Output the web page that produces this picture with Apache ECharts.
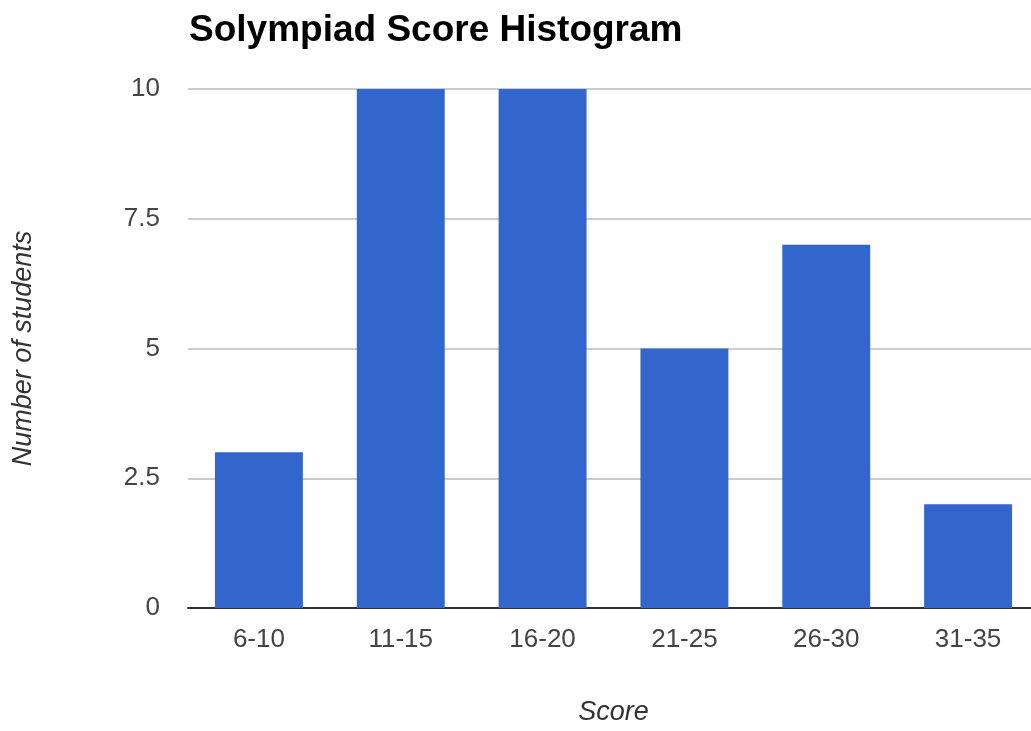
<!DOCTYPE html>
<html>
<head>
<meta charset="utf-8">
<title>Solympiad Score Histogram</title>
<script src="https://cdn.jsdelivr.net/npm/echarts@6/dist/echarts.min.js"></script>
<style>
  html, body { margin: 0; padding: 0; overflow: hidden; background: #fff; }
  #chart { width: 1040px; height: 731px; }
</style>
</head>
<body>
<div id="chart"></div>
<script>
// score bins and how many students landed in each
const categories = ['6-10', '11-15', '16-20', '21-25', '26-30', '31-35'];
const studentCounts = [3, 10, 10, 5, 7, 2];

const font = 'Liberation Sans, Arial, sans-serif';

let myChart = echarts.init(document.getElementById('chart'));

let option = {
  backgroundColor: '#ffffff',
  animation: false,
  title: {
    text: 'Solympiad Score Histogram',
    left: 184,
    top: 7,
    textStyle: {
      fontFamily: font,
      fontSize: 37,
      fontWeight: 'bold',
      color: '#000000'
    }
  },
  grid: {
    left: 188,
    right: 1,
    top: 89,
    bottom: 118
  },
  xAxis: {
    type: 'category',
    data: categories,
    name: 'Score',
    nameLocation: 'middle',
    nameGap: 91,
    nameTextStyle: {
      fontFamily: font,
      fontSize: 27,
      fontStyle: 'italic',
      color: '#333333'
    },
    axisLine: {
      lineStyle: { color: '#333333', width: 2 }
    },
    axisTick: { show: false },
    axisLabel: {
      margin: 19,
      fontFamily: font,
      fontSize: 26,
      color: '#444444'
    }
  },
  yAxis: {
    type: 'value',
    min: 0,
    max: 10,
    interval: 2.5,
    name: 'Number of students',
    nameLocation: 'middle',
    nameGap: 151,
    nameTextStyle: {
      fontFamily: font,
      fontSize: 27,
      fontStyle: 'italic',
      color: '#333333'
    },
    axisLine: { show: false },
    axisTick: { show: false },
    axisLabel: {
      margin: 28,
      fontFamily: font,
      fontSize: 26,
      color: '#444444'
    },
    splitLine: {
      lineStyle: { color: '#cccccc', width: 2 }
    }
  },
  series: [
    {
      name: 'Students',
      type: 'bar',
      barCategoryGap: '38%',
      itemStyle: { color: '#3366cc' },
      data: studentCounts
    }
  ]
};
myChart.setOption(option);
</script>
</body>
</html>
